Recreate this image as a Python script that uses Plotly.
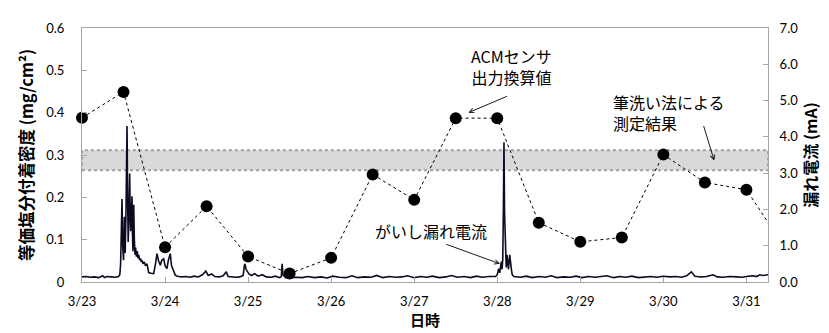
import plotly.graph_objects as go

# ---- data ----
x_tick_vals = [0, 1, 2, 3, 4, 5, 6, 7, 8]
x_tick_text = ["3/23", "3/24", "3/25", "3/26", "3/27", "3/28", "3/29", "3/30", "3/31"]

# ACM sensor converted salt deposit density (mg/cm2), every 12 h from 3/23 0:00
acm_days = [0, 0.5, 1, 1.5, 2, 2.5, 3, 3.5, 4, 4.5, 5, 5.5, 6, 6.5, 7, 7.5, 8, 8.5]
acm_vals = [0.388, 0.449, 0.082, 0.179, 0.060, 0.020, 0.057, 0.254, 0.194, 0.387,
            0.387, 0.140, 0.095, 0.105, 0.301, 0.235, 0.218, 0.07]

# brush-wash measurement band (mg/cm2)
band_low = 0.264
band_high = 0.311

# insulator leakage current (mA)
leak_days = [
    0.00, 0.05, 0.10, 0.15, 0.20, 0.25, 0.27, 0.30, 0.35, 0.40, 0.44,
    0.455, 0.465, 0.475, 0.482, 0.490, 0.500, 0.510, 0.520, 0.530, 0.542,
    0.550, 0.556, 0.565, 0.574, 0.580, 0.586, 0.594, 0.602, 0.608, 0.614,
    0.618, 0.623, 0.630, 0.638, 0.645, 0.655, 0.665, 0.675, 0.683, 0.695,
    0.705, 0.715, 0.722, 0.735, 0.750, 0.765, 0.783, 0.795, 0.803, 0.830,
    0.863, 0.885, 0.903, 0.920, 0.943, 0.960, 0.984, 1.000, 1.023, 1.040,
    1.063, 1.078, 1.092, 1.105, 1.123,
    1.15, 1.20, 1.25, 1.30, 1.35, 1.40, 1.45, 1.49, 1.52, 1.56, 1.60, 1.65,
    1.70, 1.737, 1.76, 1.80, 1.85, 1.90, 1.94, 1.955, 1.962, 1.975, 1.99,
    2.01, 2.04, 2.08, 2.12, 2.17, 2.22, 2.28, 2.33, 2.38, 2.40, 2.405, 2.41,
    2.42, 2.45, 2.50, 2.58, 2.65, 2.72, 2.80, 2.88, 2.95, 3.02, 3.10, 3.18,
    3.25, 3.32, 3.40, 3.48, 3.55, 3.62, 3.70, 3.78, 3.85, 3.92, 4.00, 4.08,
    4.15, 4.22, 4.30, 4.38, 4.45, 4.52, 4.60, 4.68, 4.75, 4.82, 4.90, 4.98,
    5.00, 5.017, 5.03, 5.049, 5.058, 5.066, 5.074, 5.081, 5.088, 5.094, 5.100,
    5.108, 5.117, 5.125, 5.135, 5.150, 5.158, 5.169, 5.18, 5.20, 5.28, 5.35,
    5.42, 5.50, 5.58, 5.65, 5.72, 5.80, 5.88, 5.95, 6.02, 6.10, 6.18, 6.25,
    6.32, 6.40, 6.48, 6.55, 6.62, 6.70, 6.78, 6.85, 6.92, 7.00, 7.08, 7.15,
    7.22, 7.28, 7.337, 7.38, 7.45, 7.52, 7.598, 7.65, 7.72, 7.80, 7.88, 7.95,
    8.02, 8.08, 8.12, 8.16, 8.20, 8.26]
leak_vals = [
    0.14, 0.15, 0.13, 0.14, 0.12, 0.17, 0.12, 0.15, 0.14, 0.13, 0.15,
    0.20, 0.50, 1.20, 2.29, 1.00, 0.60, 1.80, 0.80, 2.00, 4.30,
    2.20, 1.10, 1.80, 2.99, 1.90, 1.40, 1.90, 2.36, 1.30, 0.85,
    1.50, 2.13, 1.20, 0.75, 0.95, 0.70, 0.85, 0.65, 0.75, 0.60,
    0.65, 0.55, 0.60, 0.50, 0.55, 0.45, 0.50, 0.30, 0.26, 0.24,
    0.23, 0.50, 0.78, 0.60, 0.46, 0.60, 0.64, 0.45, 0.37, 0.60,
    0.78, 0.45, 0.37, 0.25, 0.19,
    0.16, 0.14, 0.15, 0.13, 0.16, 0.14, 0.20, 0.30, 0.18, 0.22, 0.15, 0.14,
    0.17, 0.28, 0.15, 0.14, 0.13, 0.14, 0.18, 0.45, 0.50, 0.35, 0.28,
    0.22, 0.18, 0.23, 0.16, 0.20, 0.14, 0.13, 0.16, 0.12, 0.15, 0.45, 0.50,
    0.20, 0.12, 0.11, 0.13, 0.12, 0.15, 0.12, 0.14, 0.11, 0.16, 0.13, 0.12,
    0.17, 0.12, 0.14, 0.13, 0.18, 0.12, 0.15, 0.13, 0.14, 0.17, 0.12, 0.15,
    0.13, 0.16, 0.12, 0.14, 0.18, 0.13, 0.15, 0.12, 0.16, 0.13, 0.15, 0.15,
    0.20, 0.37, 0.25, 0.56, 0.35, 0.60, 2.00, 3.85, 1.90, 1.30, 0.50,
    0.40, 0.75, 0.45, 0.35, 0.75, 0.45, 0.37, 0.20, 0.15, 0.13, 0.16,
    0.12, 0.15, 0.13, 0.17, 0.12, 0.14, 0.13, 0.16, 0.12, 0.15, 0.13, 0.14,
    0.17, 0.12, 0.15, 0.13, 0.16, 0.12, 0.14, 0.15, 0.13, 0.16, 0.14, 0.15,
    0.13, 0.17, 0.28, 0.16, 0.14, 0.15, 0.20, 0.14, 0.13, 0.15, 0.14, 0.13,
    0.16, 0.17, 0.15, 0.20, 0.18, 0.20]

left_ticks = [0, 0.1, 0.2, 0.3, 0.4, 0.5, 0.6]
left_tick_text = ["0", "0.1", "0.2", "0.3", "0.4", "0.5", "0.6"]
right_ticks = [0, 1, 2, 3, 4, 5, 6, 7]

X_MAX = 8.26
FONT = "Lato, 'Noto Sans CJK JP', sans-serif"
CJK = "'Noto Sans CJK JP', Lato, sans-serif"
AXIS_GRAY = "#a6a6a6"

fig = go.Figure()

# leakage current (right axis)
fig.add_trace(go.Scatter(
    x=leak_days, y=leak_vals, yaxis="y2", mode="lines",
    line=dict(color="#0b0b22", width=1.6), hoverinfo="skip", showlegend=False))

# ACM line (clipped), markers only for points within the visible range
fig.add_trace(go.Scatter(
    x=acm_days, y=acm_vals, mode="lines",
    line=dict(color="black", width=1, dash="dot"), showlegend=False))
vis = [(d, v) for d, v in zip(acm_days, acm_vals) if d <= X_MAX]
fig.add_trace(go.Scatter(
    x=[d for d, _ in vis], y=[v for _, v in vis], mode="markers",
    marker=dict(color="black", size=12), cliponaxis=False, showlegend=False))

# brush-wash band
fig.add_shape(type="rect", xref="paper", x0=0, x1=1, yref="y", y0=band_low, y1=band_high,
              fillcolor="#d9d9d9", line=dict(color="#a0a0a0", width=2, dash="dot"),
              layer="below")

ann_font = dict(family=CJK, size=16, color="black")
fig.add_annotation(x=4.653, y=0.400, xref="x", yref="y", ax=40, ay=-17,
                   showarrow=True, arrowhead=5, arrowsize=1, arrowwidth=0.9,
                   arrowcolor="black", text="", standoff=0)
fig.add_annotation(x=5.17, y=0.508, xref="x", yref="y", showarrow=False,
                   text="ACMセンサ<br>出力換算値", font=ann_font, align="center")
fig.add_annotation(x=7.612, y=0.287, xref="x", yref="y", ax=-11, ay=-36,
                   showarrow=True, arrowhead=5, arrowsize=1, arrowwidth=0.9,
                   arrowcolor="black", text="", standoff=0)
fig.add_annotation(x=6.37, y=0.40, xref="x", yref="y", xanchor="left", showarrow=False,
                   text="筆洗い法による<br>測定結果", font=ann_font, align="left")
fig.add_annotation(x=5.032, y=0.043, xref="x", yref="y", ax=-55, ay=-20,
                   showarrow=True, arrowhead=5, arrowsize=1, arrowwidth=0.9,
                   arrowcolor="black", text="", standoff=0)
fig.add_annotation(x=4.206, y=0.121, xref="x", yref="y", showarrow=False,
                   text="がいし漏れ電流", font=ann_font)

fig.update_layout(
    width=829, height=333,
    margin=dict(l=74, r=69, t=16, b=59),
    paper_bgcolor="white", plot_bgcolor="white",
    font=dict(family=FONT, size=13, color="black"),
    showlegend=False,
    xaxis=dict(range=[0, X_MAX], tickmode="array", tickvals=x_tick_vals, ticktext=x_tick_text,
               ticks="inside", ticklen=5, tickcolor=AXIS_GRAY, showgrid=False, zeroline=False,
               showline=True, linecolor=AXIS_GRAY, linewidth=1, mirror=True,
               ticklabelstandoff=7, tickfont=dict(family=FONT, size=13),
               title=dict(text="<b>日時</b>", font=dict(family=CJK, size=15), standoff=2)),
    yaxis=dict(range=[0, 0.6], tickmode="array", tickvals=left_ticks, ticktext=left_tick_text,
               ticks="inside", ticklen=5, tickcolor=AXIS_GRAY, showgrid=False, zeroline=False,
               showline=True, linecolor=AXIS_GRAY, linewidth=1, mirror=True,
               ticklabelstandoff=14, tickfont=dict(family=FONT, size=13),
               title=dict(text="<b>等価塩分付着密度 (mg/cm²)</b>",
                          font=dict(family=CJK, size=16.5), standoff=8)),
    yaxis2=dict(range=[0, 7], overlaying="y", side="right", tickmode="array",
                tickvals=right_ticks, tickformat=".1f",
                ticks="inside", ticklen=5, tickcolor=AXIS_GRAY, showgrid=False, zeroline=False,
                showline=True, linecolor=AXIS_GRAY, linewidth=1,
                ticklabelstandoff=8, tickfont=dict(family=FONT, size=13),
                title=dict(text="<b>漏れ電流 (mA)</b>", font=dict(family=CJK, size=16), standoff=6)),
)

fig.write_html("out.html")
